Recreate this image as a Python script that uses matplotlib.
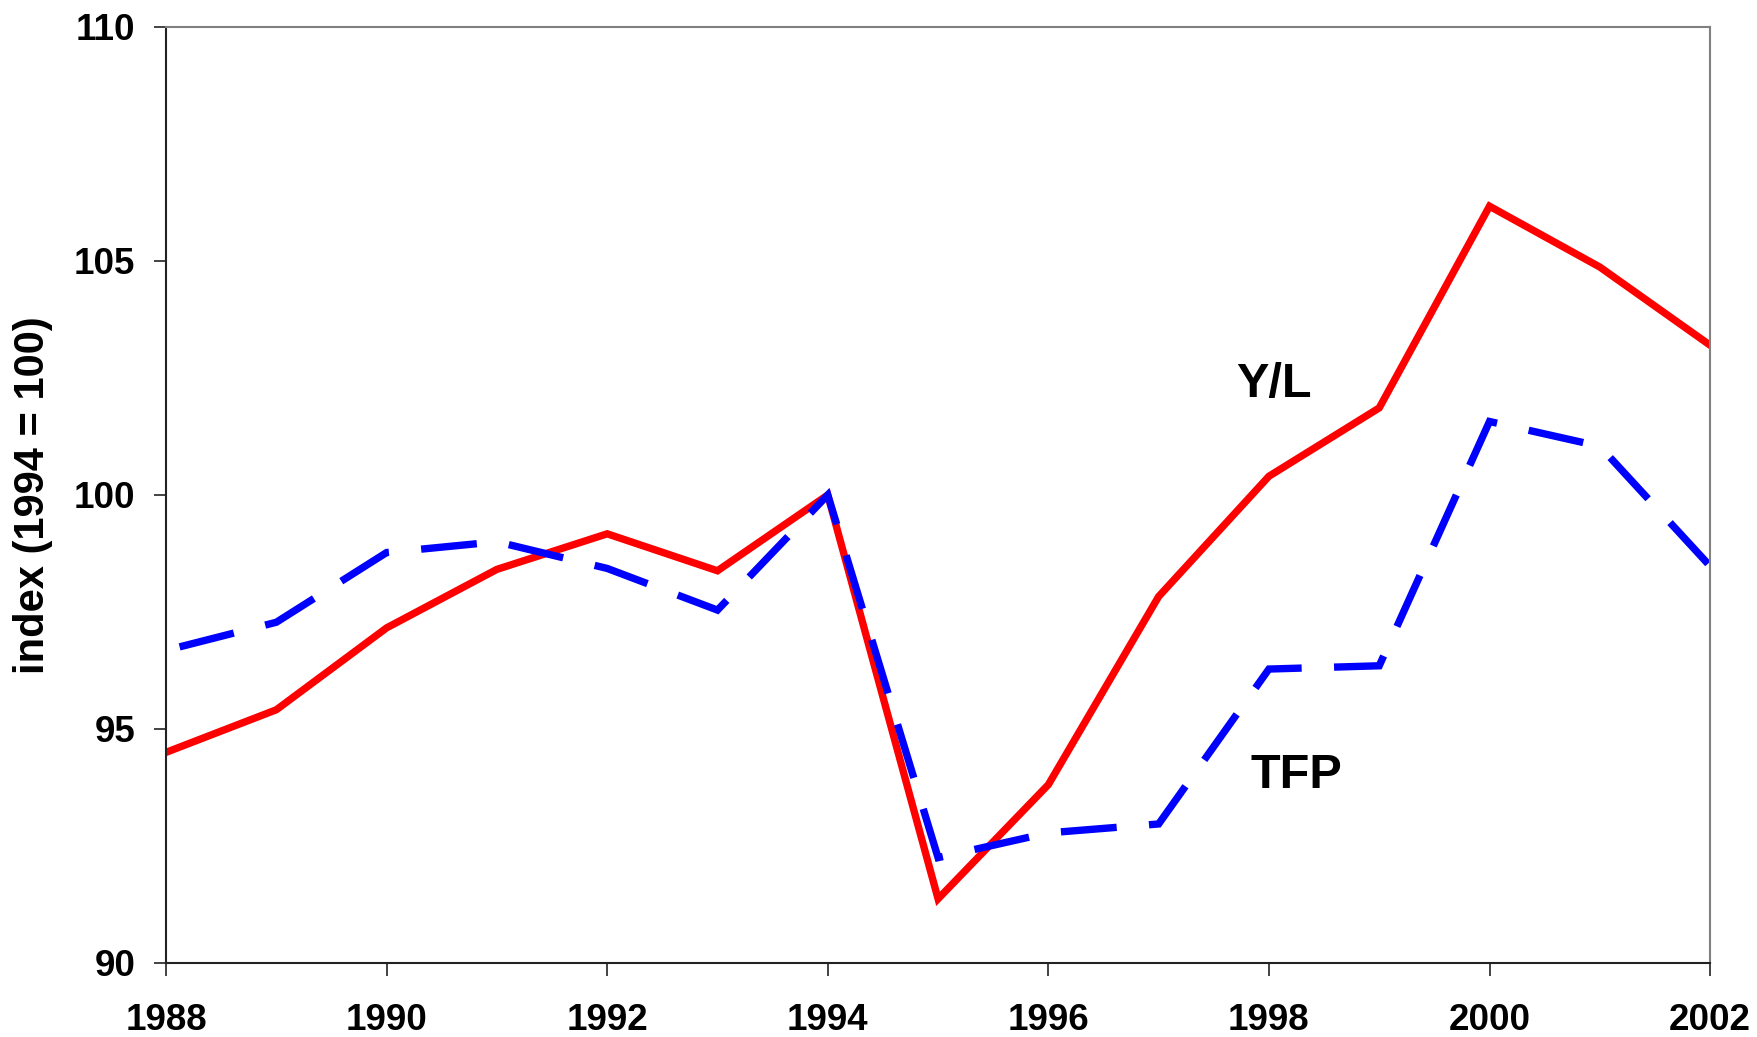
import matplotlib
matplotlib.use('Agg')
import matplotlib.pyplot as plt

# Series (index, 1994 = 100)
years = list(range(1988, 2003))
y_per_l = [94.5, 95.41, 97.16, 98.41, 99.17, 98.38, 100.0, 91.37,
           93.81, 97.83, 100.4, 101.86, 106.17, 104.87, 103.2]
tfp = [96.68, 97.28, 98.77, 99.0, 98.43, 97.54, 100.0, 92.25,
       92.78, 92.97, 96.28, 96.35, 101.57, 101.04, 98.48]

x_ticks = [1988, 1990, 1992, 1994, 1996, 1998, 2000, 2002]
y_ticks = [90, 95, 100, 105, 110]

plt.rcParams['font.family'] = ['Liberation Sans', 'DejaVu Sans']
plt.rcParams['font.weight'] = 'bold'

fig = plt.figure(figsize=(17.57, 10.37), dpi=100)
ax = fig.add_axes([0.0945, 0.0714, 0.8788, 0.9026])

# Y/L solid red, TFP dashed blue
ax.plot(years, y_per_l, color='#ff0000', linewidth=5.3, solid_joinstyle='miter')
ax.plot(years, tfp, color='#0000ff', linewidth=5.3,
        linestyle=(10.1, (7.6, 4.4)),
        dash_capstyle='butt', dash_joinstyle='miter')

ax.text(1997.7, 102.35, 'Y/L', fontsize=35, fontweight='bold', ha='left', va='center')
ax.text(1997.83, 94.0, 'TFP', fontsize=35, fontweight='bold', ha='left', va='center')

ax.set_xlim(1988, 2002)
ax.set_ylim(90, 110)
ax.set_xticks(x_ticks)
ax.set_yticks(y_ticks)
ax.tick_params(axis='both', which='major', labelsize=26.5, direction='out',
               length=9, width=1.2, color='#222222')
ax.tick_params(axis='x', pad=20)
ax.tick_params(axis='y', pad=13)
for lab in ax.get_xticklabels() + ax.get_yticklabels():
    lab.set_fontweight('bold')

# Left and bottom dark, top and right gray
ax.spines['left'].set_color('#222222')
ax.spines['bottom'].set_color('#222222')
ax.spines['top'].set_color('#808080')
ax.spines['right'].set_color('#808080')
for s in ax.spines.values():
    s.set_linewidth(1.5)

fig.text(0.019, 0.5227, 'index (1994 = 100)', rotation=90, fontsize=30,
         fontweight='bold', ha='center', va='center')

fig.savefig('out.png', dpi=100)
